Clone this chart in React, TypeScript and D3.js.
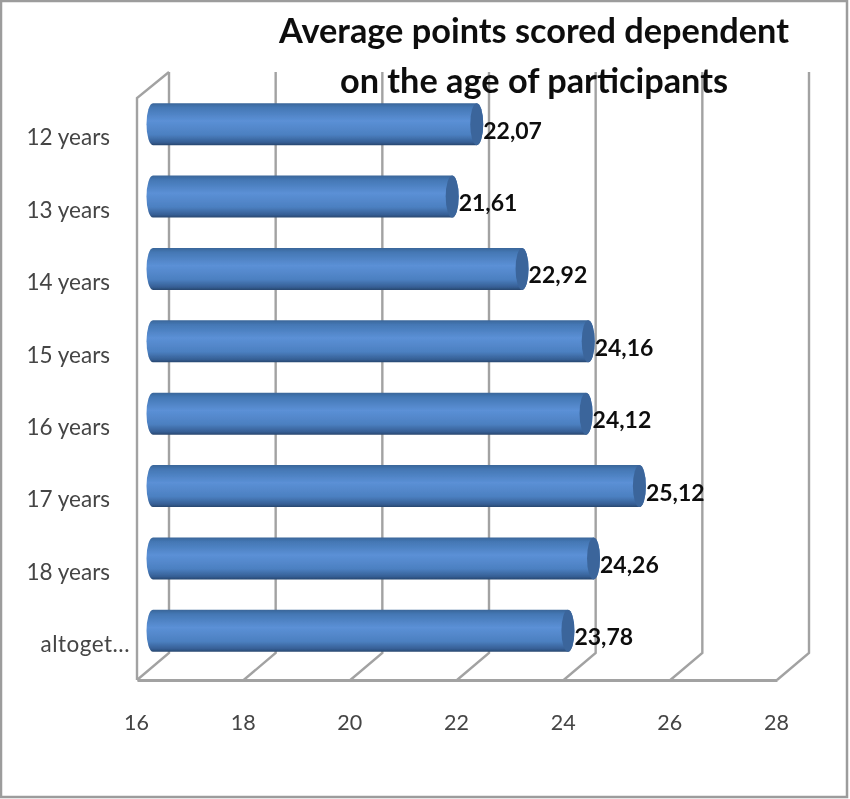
import * as d3 from 'd3';
import { useEffect, useRef } from 'react';

const categories = ['12 years', '13 years', '14 years', '15 years', '16 years', '17 years', '18 years', 'altoget...'];
const values = [22.07, 21.61, 22.92, 24.16, 24.12, 25.12, 24.26, 23.78];
const xTicks = [16, 18, 20, 22, 24, 26, 28];
const titleLines = ['Average points scored dependent', 'on the age of participants'];

const dimensions = {
  width: 850,
  height: 799,
  left: 137,
  right: 777,
  top: 88,
  bottom: 667,
  floor: 680,
  depthX: 32,
  depthY: 27,
  wallTop: 72,
};

const FONT = 'Lato, Carlito, "Open Sans", sans-serif';
const GRID = '#a2a2a2';

export default function App() {
  const svgRef = useRef<SVGSVGElement>(null);

  useEffect(() => {
    const svg = d3.select(svgRef.current);
    svg.selectAll('*').remove();

    const xScale = d3
      .scaleLinear()
      .domain([16, 28])
      .range([dimensions.left, dimensions.right]);

    const yScale = d3
      .scaleBand()
      .domain(categories)
      .range([dimensions.top, dimensions.bottom])
      .paddingInner(0.42)
      .paddingOuter(0.21);

    const comma = d3.formatLocale({
      decimal: ',',
      thousands: '.',
      grouping: [3],
      currency: ['', ''],
    }).format('.2f');

    const defs = svg.append('defs');
    const grad = defs
      .append('linearGradient')
      .attr('id', 'barFill')
      .attr('x1', 0)
      .attr('y1', 0)
      .attr('x2', 0)
      .attr('y2', 1);
    grad.append('stop').attr('offset', '0%').attr('stop-color', '#3a6699');
    grad.append('stop').attr('offset', '10%').attr('stop-color', '#4477b4');
    grad.append('stop').attr('offset', '42%').attr('stop-color', '#5b90d6');
    grad.append('stop').attr('offset', '75%').attr('stop-color', '#4c80c1');
    grad.append('stop').attr('offset', '93%').attr('stop-color', '#365f95');
    grad.append('stop').attr('offset', '100%').attr('stop-color', '#28476f');

    defs
      .append('filter')
      .attr('id', 'soft')
      .append('feGaussianBlur')
      .attr('stdDeviation', 0.6);

    const root = svg.append('g').attr('filter', 'url(#soft)');

    // Outer frame
    root
      .append('rect')
      .attr('x', 1)
      .attr('y', 1)
      .attr('width', 846)
      .attr('height', 796)
      .attr('fill', '#fff')
      .attr('stroke', '#9c9c9c')
      .attr('stroke-width', 2.5);

    // Back wall verticals and floor diagonals
    const grid = root
      .append('g')
      .attr('fill', 'none')
      .attr('stroke', GRID)
      .attr('stroke-width', 2.4);

    grid
      .selectAll('path')
      .data(xTicks)
      .enter()
      .append('path')
      .attr('d', function (d) {
        const fx = xScale(d);
        const bx = fx + dimensions.depthX;
        const by = dimensions.floor - dimensions.depthY;
        return 'M' + fx + ',' + dimensions.floor + 'L' + bx + ',' + by + 'L' + bx + ',' + dimensions.wallTop;
      });

    // Left wall
    grid
      .append('path')
      .attr(
        'd',
        'M' + dimensions.left + ',' + dimensions.floor +
          'L' + dimensions.left + ',' + (dimensions.wallTop + dimensions.depthY - 1) +
          'L' + (dimensions.left + dimensions.depthX) + ',' + dimensions.wallTop
      );

    // X axis along the front of the floor
    const xAxis = root
      .append('g')
      .attr('transform', 'translate(0,' + dimensions.floor + ')')
      .call(d3.axisBottom(xScale).tickValues(xTicks).tickSize(0).tickPadding(33));
    xAxis.select('.domain').attr('stroke', GRID).attr('stroke-width', 2.8);
    xAxis
      .selectAll('text')
      .attr('dy', '0.79em')
      .attr('transform', 'translate(-1,0)')
      .style('font-family', FONT)
      .style('font-size', '21.5px')
      .attr('fill', '#444');

    // Y axis labels only, the truncated last one sits further right
    const yAxis = root
      .append('g')
      .attr('transform', 'translate(110,14)')
      .call(d3.axisLeft(yScale).tickSize(0).tickPadding(0));
    yAxis.select('.domain').remove();
    yAxis
      .selectAll('text')
      .style('font-family', FONT)
      .style('font-size', '22.5px')
      .attr('fill', '#444')
      .attr('dx', function (d) {
        return d === 'altoget...' ? 20 : 0;
      })
      .style('letter-spacing', function (d) {
        return d === 'altoget...' ? '0.5px' : null;
      });

    // Cylinders
    const capX = 6.5;
    const midDepth = 16;
    const bars = root
      .append('g')
      .selectAll('g')
      .data(categories)
      .enter()
      .append('g');

    bars
      .append('path')
      .attr('d', function (d, i) {
        const y0 = yScale(d) as number;
        const h = yScale.bandwidth();
        const x0 = xScale(16) + midDepth;
        const x1 = xScale(values[i]) + midDepth;
        return (
          'M' + x0 + ',' + y0 +
          'A' + capX + ',' + h / 2 + ' 0 0 0 ' + x0 + ',' + (y0 + h) +
          'L' + x1 + ',' + (y0 + h) +
          'A' + capX + ',' + h / 2 + ' 0 0 0 ' + x1 + ',' + y0 +
          'Z'
        );
      })
      .attr('fill', 'url(#barFill)');

    bars
      .append('ellipse')
      .attr('cx', function (d, i) {
        return xScale(values[i]) + midDepth;
      })
      .attr('cy', function (d) {
        return (yScale(d) as number) + yScale.bandwidth() / 2;
      })
      .attr('rx', capX)
      .attr('ry', yScale.bandwidth() / 2)
      .attr('fill', '#3b659b');

    // Value labels
    bars
      .append('text')
      .attr('x', function (d, i) {
        return xScale(values[i]) + midDepth + capX;
      })
      .attr('y', function (d) {
        return (yScale(d) as number) + yScale.bandwidth() / 2 + 14.5;
      })
      .style('font-family', FONT)
      .style('font-size', '23px')
      .style('font-weight', 700)
      .attr('fill', '#111')
      .text(function (d, i) {
        return comma(values[i]);
      });

    // Title
    root
      .append('g')
      .selectAll('text')
      .data(titleLines)
      .enter()
      .append('text')
      .attr('x', 534)
      .attr('y', function (d, i) {
        return 43 + i * 50;
      })
      .attr('text-anchor', 'middle')
      .style('font-family', FONT)
      .style('font-size', '34.3px')
      .style('font-weight', 700)
      .attr('fill', '#111')
      .text(function (d) {
        return d;
      });
  }, []);

  return (
    <svg
      ref={svgRef}
      width={dimensions.width}
      height={dimensions.height}
      style={{ position: 'absolute', left: 0, top: 0 }}
    ></svg>
  );
}
